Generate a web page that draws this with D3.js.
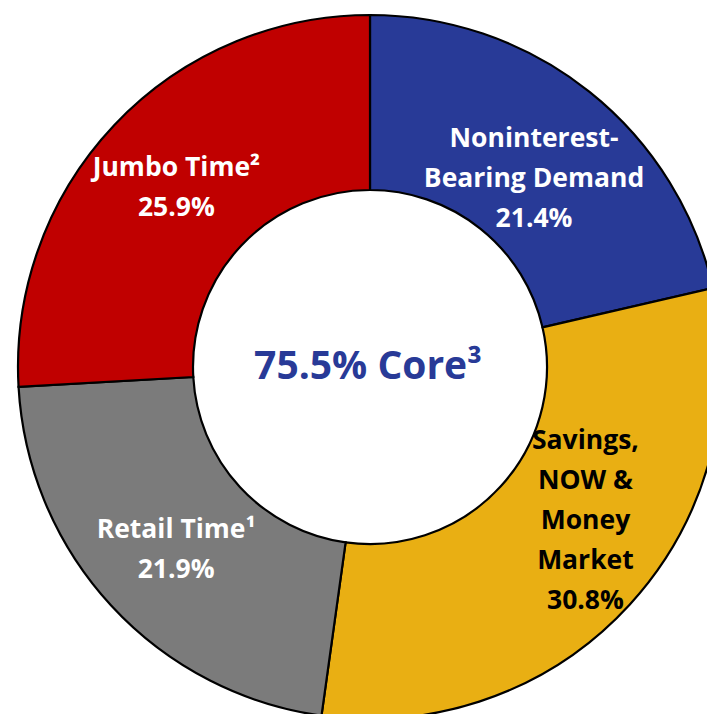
<!DOCTYPE html>
<html>
<head>
<meta charset="utf-8">
<script src="https://cdn.jsdelivr.net/npm/d3@7"></script>
<style>
  body { margin: 0; background: #fff; }
  svg { display: block; }
  text { font-family: "Open Sans", Lato, sans-serif; font-weight: bold; }
</style>
</head>
<body>
<script>

// deposit mix data
var categories = ["Noninterest-Bearing Demand", "Savings, NOW & Money Market", "Retail Time¹", "Jumbo Time²"];
var values = [21.4, 30.8, 21.9, 25.9];
var labelLines = [
    ["Noninterest-", "Bearing Demand", "21.4%"],
    ["Savings,", "NOW &", "Money", "Market", "30.8%"],
    ["Retail Time¹", "21.9%"],
    ["Jumbo Time²", "25.9%"]
];
var centerLabel = "75.5% Core³";

var colors = ["#283a97", "#e9af13", "#7b7b7b", "#c00000"],
    textColors = ["#fff", "#000", "#fff", "#fff"];

var width = 707, height = 714,
    cx = 370, cy = 367,
    outerR = 352, innerR = 177,
    lineH = 40;

// small nudges so labels sit where the original put them
var nudge = [[-1, 18], [20, -26], [1, 2], [-1, 2]];

var svg = d3.select("body").append("svg")
    .attr("width", width)
    .attr("height", height);

var g = svg.append("g")
    .attr("transform", "translate(" + cx + "," + cy + ")");

var pie = d3.pie().sort(null).value(function(d) { return d; });

var arc = d3.arc().innerRadius(innerR).outerRadius(outerR);
var labelArc = d3.arc().innerRadius(265).outerRadius(265);

var arcs = pie(values);

g.selectAll("path.slice")
    .data(arcs)
  .enter().append("path")
    .attr("class", "slice")
    .attr("d", arc)
    .style("fill", function(d, i) { return colors[i]; })
    .style("stroke", "#000")
    .style("stroke-width", 2.2);

var labels = g.selectAll("text.label")
    .data(arcs)
  .enter().append("text")
    .attr("class", "label")
    .attr("text-anchor", "middle")
    .style("font-size", "26.5px")
    .style("fill", function(d, i) { return textColors[i]; })
    .attr("transform", function(d, i) {
        var c = labelArc.centroid(d);
        return "translate(" + (c[0] + nudge[i][0]) + "," + (c[1] + nudge[i][1]) + ")";
    });

labels.selectAll("tspan")
    .data(function(d, i) {
        var lines = labelLines[i];
        return lines.map(function(l, j) { return {text: l, y: (j - (lines.length - 1) / 2) * lineH + 9}; });
    })
  .enter().append("tspan")
    .attr("x", 0)
    .attr("y", function(d) { return d.y; })
    .text(function(d) { return d.text; });

// center text
g.append("text")
    .attr("text-anchor", "middle")
    .attr("x", -2)
    .attr("y", 12)
    .style("font-size", "39px")
    .style("fill", "#283a97")
    .text(centerLabel);

</script>
</body>
</html>
